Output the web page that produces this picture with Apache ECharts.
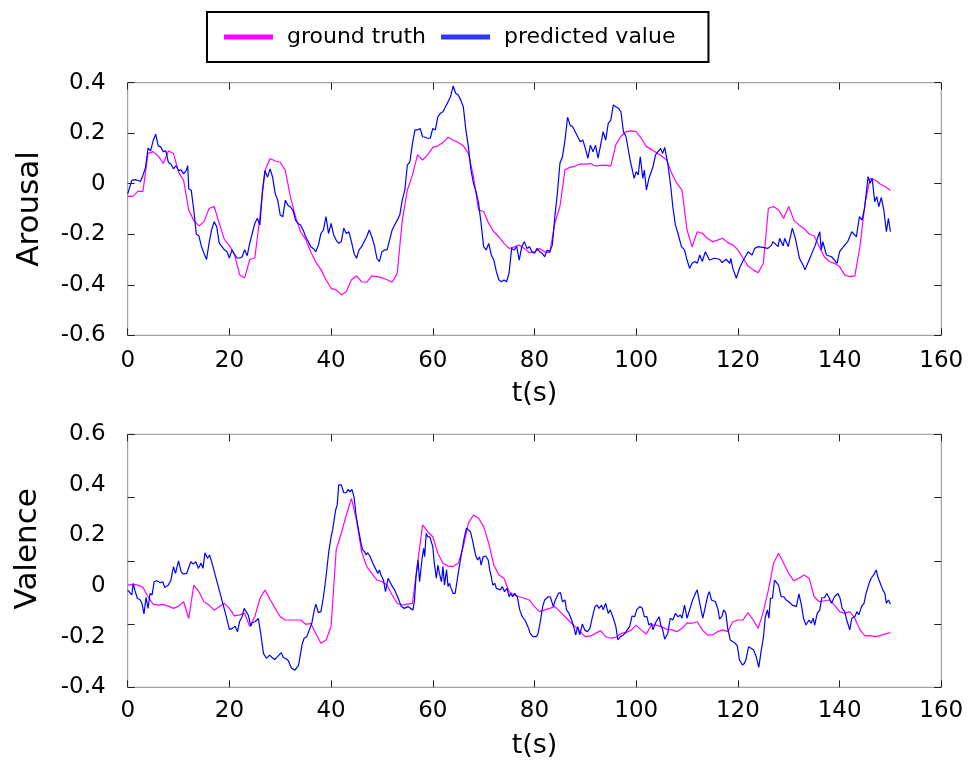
<!DOCTYPE html>
<html>
<head>
<meta charset="utf-8">
<title>Arousal / Valence</title>
<script src="https://cdn.jsdelivr.net/npm/echarts@6/dist/echarts.min.js"></script>
<style>
  html, body { margin: 0; padding: 0; background: #fff; }
  #main { width: 971px; height: 778px; }
</style>
</head>
<body>
<div id="main"></div>
<script>
// ground truth, one value per second (t = 0..150)
const arousalTruth = [
  -0.05, -0.05, -0.03, -0.03, 0.12, 0.127, 0.11, 0.08, 0.13, 0.12,
  0.046, 0.013, -0.105, -0.145, -0.167, -0.15, -0.098, -0.09, -0.157, -0.22,
  -0.245, -0.28, -0.36, -0.373, -0.30, -0.294, -0.13, 0.052, 0.10, 0.09,
  0.085, 0.052, -0.052, -0.13, -0.19, -0.22, -0.27, -0.31, -0.34, -0.38,
  -0.414, -0.42, -0.44, -0.427, -0.38, -0.365, -0.388, -0.39, -0.365, -0.368,
  -0.372, -0.38, -0.39, -0.355, -0.144, -0.025, 0.034, 0.114, 0.094, 0.114,
  0.144, 0.15, 0.163, 0.184, 0.173, 0.163, 0.15, 0.12, 0.028, -0.104,
  -0.11, -0.157, -0.19, -0.21, -0.236, -0.256, -0.25, -0.243, -0.256, -0.273,
  -0.27, -0.256, -0.27, -0.273, -0.157, -0.09, 0.055, 0.065, 0.07, 0.078,
  0.078, 0.08, 0.07, 0.073, 0.074, 0.07, 0.155, 0.188, 0.206, 0.209,
  0.206, 0.18, 0.147, 0.136, 0.123, 0.11, 0.094, 0.041, 0.001, -0.025,
  -0.183, -0.25, -0.19, -0.196, -0.216, -0.23, -0.223, -0.216, -0.233, -0.242,
  -0.262, -0.295, -0.326, -0.341, -0.352, -0.315, -0.097, -0.09, -0.104, -0.137,
  -0.09, -0.144, -0.163, -0.177, -0.199, -0.207, -0.249, -0.289, -0.308, -0.315,
  -0.328, -0.361, -0.368, -0.365, -0.249, -0.078, 0.021, 0.015, -0.001, -0.012,
  -0.027
];
const valenceTruth = [
  0.004, 0.007, 0.004, -0.005, -0.042, -0.071, -0.075, -0.072, -0.079, -0.088,
  -0.079, -0.062, -0.128, 0.004, -0.022, -0.062, -0.075, -0.095, -0.082, -0.068,
  -0.088, -0.118, -0.114, -0.108, -0.16, -0.121, -0.049, -0.016, -0.053, -0.088,
  -0.121, -0.134, -0.134, -0.134, -0.134, -0.151, -0.147, -0.187, -0.226, -0.213,
  -0.16, 0.143, 0.209, 0.281, 0.347, 0.261, 0.136, 0.077, 0.05, 0.024,
  0.018, 0.004, -0.035, -0.068, -0.075, -0.071, -0.068, 0.09, 0.242, 0.215,
  0.195, 0.13, 0.09, 0.079, 0.077, 0.09, 0.156, 0.248, 0.281, 0.268,
  0.235, 0.169, 0.083, 0.044, 0.031, -0.022, -0.035, -0.042, -0.048, -0.055,
  -0.081, -0.101, -0.094, -0.088, -0.081, -0.101, -0.121, -0.141, -0.16, -0.18,
  -0.2, -0.197, -0.187, -0.176, -0.2, -0.206, -0.203, -0.187, -0.184, -0.174,
  -0.154, -0.174, -0.189, -0.154, -0.154, -0.16, -0.171, -0.173, -0.18, -0.167,
  -0.145, -0.147, -0.141, -0.173, -0.193, -0.193, -0.18, -0.173, -0.18, -0.141,
  -0.134, -0.134, -0.105, -0.134, -0.167, -0.101, -0.015, 0.09, 0.13, 0.09,
  0.05, 0.021, 0.031, 0.044, 0.031, -0.042, -0.062, -0.058, -0.055, -0.075,
  -0.101, -0.108, -0.101, -0.127, -0.173, -0.197, -0.196, -0.2, -0.196, -0.189,
  -0.184
];

// predicted values, sampled where the trace turns
const arousalPredT = [
  0, 0.8, 1.5, 2, 2.5, 3, 3.5, 4, 4.5, 5, 5.5, 6, 6.5, 7, 7.5, 8, 8.5, 9, 9.5, 10,
  10.5, 11, 11.5, 11.8, 12, 12.5, 13, 13.5, 14, 14.5, 15, 15.5, 16, 16.5, 17, 17.5, 18, 18.5, 19, 19.5,
  20, 20.5, 21, 21.5, 22, 22.5, 23, 23.5, 24, 24.5, 25, 25.5, 26, 26.5, 27, 27.5, 28, 28.5, 29, 29.5,
  30, 30.5, 31, 31.5, 32, 32.5, 33, 33.5, 34, 34.5, 35, 35.5, 36, 36.5, 37, 37.5, 38, 38.5, 39, 39.5,
  40, 40.5, 41, 41.5, 42, 42.5, 43, 43.5, 44, 44.5, 45, 45.5, 46, 46.5, 47, 47.5, 48, 48.5, 49, 49.5,
  50, 50.5, 51, 51.5, 52, 52.5, 53, 53.5, 54, 54.5, 55, 55.5, 56, 56.5, 57, 57.5, 58, 58.5, 59, 59.5,
  60, 60.5, 61, 61.5, 62, 62.5, 63, 63.5, 64, 64.5, 65, 65.5, 66, 66.5, 67, 67.5, 68, 68.5, 69, 69.5,
  70, 70.5, 71, 71.5, 72, 72.5, 73, 73.5, 74, 74.5, 75, 75.5, 76, 76.5, 77, 77.5, 78, 78.5, 79, 79.5,
  80, 80.5, 81, 81.5, 82, 82.5, 83, 83.5, 84, 84.5, 85, 85.5, 86, 86.5, 87, 87.5, 88, 88.5, 89, 89.5,
  90, 90.5, 91, 91.5, 92, 92.5, 93, 93.5, 94, 94.5, 95, 95.5, 96, 96.5, 97, 97.5, 98, 98.8, 99.6, 100,
  100.4, 100.8, 101.3, 101.6, 102, 102.5, 102.8, 103.3, 103.8, 104.3, 104.8, 105.2, 105.6, 106.2, 106.8, 107.2, 107.7, 108.2, 108.9, 109.5,
  110, 110.5, 111, 111.5, 112, 112.5, 113, 113.6, 114.4, 115.4, 116.4, 116.9, 117.7, 118.4, 118.6, 119, 119.3, 119.7, 120.3, 121.1,
  122, 122.8, 123.3, 124, 124.9, 125.9, 126.6, 126.9, 127.9, 128.2, 128.9, 129.2, 129.9, 130.7, 131.3, 132.1, 132.8, 133.2, 134, 135.1,
  136.1, 136.4, 136.7, 137.4, 138.4, 139, 139.5, 140, 141, 141.6, 142.4, 143.3, 143.9, 144.4, 144.9, 145.6, 146, 146.4, 146.9, 147.3,
  147.7, 148.2, 148.7, 149.2, 149.6, 150
];
const arousalPred = [
  -0.04, 0.013, 0.016, 0.013, 0.009, 0.033, 0.065, 0.141, 0.13, 0.17, 0.196, 0.15, 0.146, 0.127, 0.13, 0.085, 0.078, 0.059, 0.072, 0.052,
  0.055, 0.039, 0.052, 0.072, -0.02, -0.026, -0.105, -0.2, -0.206, -0.248, -0.275, -0.3, -0.235, -0.183, -0.15, -0.17, -0.235, -0.248, -0.261, -0.268,
  -0.294, -0.261, -0.28, -0.294, -0.294, -0.29, -0.261, -0.285, -0.235, -0.196, -0.157, -0.137, -0.163, -0.026, 0.052, 0.026, 0.059, 0.026, -0.039, -0.065,
  -0.124, -0.131, -0.065, -0.085, -0.092, -0.105, -0.144, -0.157, -0.163, -0.183, -0.21, -0.229, -0.249, -0.256, -0.269, -0.243, -0.197, -0.183, -0.13, -0.197,
  -0.157, -0.203, -0.223, -0.236, -0.229, -0.176, -0.197, -0.19, -0.229, -0.275, -0.295, -0.262, -0.249, -0.229, -0.21, -0.183, -0.21, -0.243, -0.295, -0.308,
  -0.269, -0.262, -0.262, -0.223, -0.183, -0.163, -0.144, -0.124, -0.064, -0.025, 0.074, 0.087, 0.16, 0.213, 0.213, 0.219, 0.186, 0.184, 0.18, 0.18,
  0.219, 0.213, 0.266, 0.279, 0.285, 0.305, 0.325, 0.345, 0.387, 0.358, 0.351, 0.331, 0.305, 0.213, 0.147, 0.054, 0.002, -0.031, -0.077, -0.157,
  -0.249, -0.262, -0.236, -0.282, -0.302, -0.348, -0.381, -0.388, -0.381, -0.388, -0.354, -0.256, -0.262, -0.249, -0.302, -0.249, -0.229, -0.256, -0.249, -0.269,
  -0.275, -0.256, -0.269, -0.275, -0.289, -0.262, -0.269, -0.243, -0.13, -0.038, 0.081, 0.107, 0.173, 0.263, 0.232, 0.226, 0.206, 0.186, 0.166, 0.173,
  0.14, 0.101, 0.153, 0.127, 0.153, 0.101, 0.153, 0.206, 0.173, 0.239, 0.252, 0.312, 0.305, 0.299, 0.285, 0.206, 0.186, 0.094, 0.021, 0.048,
  0.035, 0.107, 0.021, 0.054, -0.025, 0.021, 0.015, 0.067, 0.114, 0.127, 0.14, 0.12, 0.144, 0.081, -0.012, -0.091, -0.163, -0.196, -0.249, -0.262,
  -0.302, -0.335, -0.315, -0.308, -0.315, -0.282, -0.308, -0.269, -0.302, -0.295, -0.299, -0.312, -0.299, -0.315, -0.295, -0.335, -0.341, -0.374, -0.335, -0.302,
  -0.269, -0.282, -0.256, -0.249, -0.252, -0.256, -0.243, -0.229, -0.249, -0.216, -0.246, -0.216, -0.249, -0.176, -0.216, -0.295, -0.322, -0.341, -0.302, -0.249,
  -0.19, -0.262, -0.229, -0.282, -0.289, -0.302, -0.315, -0.269, -0.243, -0.229, -0.19, -0.21, -0.13, -0.144, -0.098, 0.028, 0.002, 0.021, -0.071, -0.051,
  -0.091, -0.054, -0.104, -0.19, -0.137, -0.19
];
const valencePredT = [
  0, 0.8, 1.1, 1.4, 1.9, 2.4, 2.8, 3.2, 3.6, 4.0, 4.4, 4.8, 5.2, 5.7, 6.4, 6.9, 7.3, 8.0, 8.5, 9.0,
  9.4, 10.0, 10.5, 10.9, 11.6, 12.4, 12.9, 13.4, 13.9, 14.4, 14.8, 15.2, 15.7, 16.1, 16.7, 17.2, 17.5, 18.0, 18.7, 19.3,
  20.0, 20.6, 21.1, 21.6, 22.0, 22.5, 22.9, 23.3, 23.7, 24.2, 24.5, 25.1, 25.4, 25.7, 26.2, 26.7, 27.3, 27.9, 28.4, 28.9,
  29.6, 30.2, 30.6, 31.1, 31.6, 32.2, 32.9, 33.6, 34.3, 34.7, 35.2, 35.7, 36.2, 36.7, 37.0, 37.5, 38.0, 38.5, 39.0, 39.5,
  40.0, 40.3, 40.9, 41.2, 41.5, 42.0, 42.5, 43.0, 43.3, 43.7, 44.1, 44.5, 44.9, 45.4, 45.9, 46.2, 46.6, 46.9, 47.2, 47.7,
  48.2, 48.7, 49.2, 49.5, 49.8, 50.3, 50.7, 51.2, 51.5, 52.0, 52.5, 52.8, 53.2, 53.8, 54.4, 55.1, 55.6, 56.1, 56.4, 56.7,
  57.1, 57.4, 57.6, 57.9, 58.2, 58.4, 58.7, 59.0, 59.4, 59.7, 60.0, 60.3, 60.7, 61.0, 61.3, 61.7, 62.0, 62.3, 62.7, 63.0,
  63.3, 63.6, 64.0, 64.4, 64.8, 65.1, 65.6, 66.1, 66.6, 66.9, 67.4, 67.8, 68.0, 68.4, 68.8, 69.2, 69.5, 69.9, 70.4, 70.9,
  71.2, 71.5, 71.8, 72.2, 72.5, 72.8, 73.3, 73.7, 74.1, 74.6, 75.0, 75.3, 75.7, 76.1, 76.6, 77.1, 77.6, 78.1, 78.7, 79.2,
  79.7, 80.4, 80.7, 81.2, 81.6, 82.0, 82.7, 83.1, 83.7, 84.1, 84.7, 85.1, 85.5, 86.0, 86.3, 86.8, 87.3, 87.7, 88.1, 88.5,
  88.9, 89.4, 89.9, 90.4, 90.9, 91.4, 91.9, 92.3, 92.7, 93.2, 93.5, 94.0, 94.5, 94.9, 95.5, 96.0, 96.4, 96.9, 97.5, 98.0,
  98.7, 99.2, 99.7, 100.1, 100.7, 101.2, 101.6, 102.1, 102.5, 103.0, 103.3, 103.8, 104.5, 104.9, 105.2, 105.6, 106.2, 106.7, 107.2, 107.7,
  108.2, 108.7, 109.0, 109.5, 110.0, 110.5, 111.1, 111.7, 112.0, 112.5, 113.1, 113.6, 114.1, 114.4, 114.8, 115.1, 115.6, 116.1, 116.4, 116.9,
  117.2, 117.6, 118.0, 118.5, 119.0, 119.5, 119.9, 120.3, 120.9, 121.3, 121.6, 122.1, 122.6, 123.1, 123.6, 124.1, 124.6, 125.0, 125.4, 125.8,
  126.1, 126.4, 126.8, 127.2, 127.5, 128.0, 128.5, 129.0, 129.5, 130.0, 130.7, 131.5, 132.0, 132.5, 132.9, 133.4, 134.0, 134.4, 134.8, 135.1,
  135.6, 136.1, 136.5, 137.0, 137.5, 138.0, 138.4, 139.0, 139.7, 140.1, 140.5, 141.0, 141.4, 142.0, 142.4, 143.0, 143.4, 143.8, 144.3, 144.8,
  145.2, 145.8, 146.2, 146.7, 147.2, 147.5, 148.0, 148.5, 148.9, 149.2, 149.6, 150.0
];
const valencePred = [
  -0.016, -0.035, 0.011, -0.016, -0.049, -0.053, -0.068, -0.11, -0.045, -0.088, -0.029, -0.035, 0.017, 0.021, 0.013, 0.017, -0.006, 0.004, 0.024, 0.077,
  0.05, 0.1, 0.057, 0.048, 0.05, 0.096, 0.087, 0.096, 0.07, 0.09, 0.07, 0.132, 0.11, 0.123, 0.083, 0.044, 0.05, -0.016, -0.068, -0.114,
  -0.171, -0.167, -0.158, -0.18, -0.14, -0.121, -0.088, -0.101, -0.114, -0.158, -0.145, -0.14, -0.134, -0.128, -0.193, -0.266, -0.286, -0.273, -0.282, -0.29,
  -0.276, -0.263, -0.282, -0.286, -0.295, -0.325, -0.332, -0.312, -0.23, -0.206, -0.2, -0.174, -0.147, -0.094, -0.071, -0.105, -0.101, -0.042, 0.037, 0.129,
  0.195, 0.222, 0.301, 0.321, 0.4, 0.4, 0.369, 0.369, 0.382, 0.373, 0.382, 0.353, 0.281, 0.222, 0.169, 0.143, 0.136, 0.123, 0.132, 0.116,
  0.09, 0.07, 0.05, 0.064, 0.044, 0.024, -0.022, 0.031, 0.024, 0.0, -0.015, -0.009, -0.048, -0.081, -0.088, -0.081, -0.088, -0.094, -0.055, 0.037,
  0.103, 0.017, 0.017, 0.11, 0.149, 0.116, 0.209, 0.195, 0.195, 0.198, 0.156, 0.09, 0.031, 0.083, 0.05, 0.017, 0.077, 0.004, 0.064, -0.002,
  0.011, -0.009, -0.029, -0.029, 0.024, 0.064, 0.123, 0.183, 0.229, 0.222, 0.215, 0.182, 0.189, 0.123, 0.103, 0.116, 0.083, 0.116, 0.119, 0.103,
  0.064, 0.037, 0.004, 0.011, -0.009, -0.002, -0.015, -0.002, -0.022, -0.009, -0.042, -0.029, -0.042, -0.029, -0.042, -0.094, -0.121, -0.134, -0.16, -0.189,
  -0.2, -0.2, -0.187, -0.134, -0.081, -0.055, -0.042, -0.042, -0.081, -0.055, -0.029, -0.026, -0.062, -0.055, -0.094, -0.108, -0.134, -0.16, -0.193, -0.16,
  -0.193, -0.15, -0.174, -0.18, -0.167, -0.121, -0.081, -0.075, -0.088, -0.075, -0.094, -0.068, -0.108, -0.094, -0.127, -0.16, -0.213, -0.2, -0.193, -0.18,
  -0.16, -0.118, -0.121, -0.094, -0.081, -0.088, -0.121, -0.121, -0.154, -0.147, -0.173, -0.145, -0.121, -0.16, -0.171, -0.21, -0.187, -0.127, -0.134, -0.108,
  -0.121, -0.114, -0.127, -0.075, -0.127, -0.094, -0.055, -0.026, -0.015, -0.068, -0.127, -0.081, -0.035, -0.022, -0.055, -0.048, -0.062, -0.094, -0.131, -0.118,
  -0.094, -0.105, -0.167, -0.213, -0.22, -0.226, -0.237, -0.292, -0.312, -0.305, -0.289, -0.24, -0.246, -0.253, -0.279, -0.321, -0.253, -0.206, -0.121, -0.094,
  -0.127, -0.048, -0.048, 0.024, 0.027, 0.004, -0.042, -0.042, -0.055, -0.062, -0.075, -0.081, -0.031, -0.075, -0.127, -0.154, -0.134, -0.147, -0.127, -0.154,
  -0.108, -0.094, -0.046, -0.046, -0.029, -0.048, -0.068, -0.042, -0.029, -0.048, -0.088, -0.101, -0.134, -0.173, -0.127, -0.121, -0.101, -0.114, -0.081, -0.068,
  -0.029, 0.011, 0.031, 0.044, 0.064, 0.037, 0.011, -0.015, -0.029, -0.068, -0.055, -0.071
];

const FONT = 'DejaVu Sans';
const truthColor = '#ff00ff';
const predColor = '#0000ff';

function pairs(ts, vs) {
  const n = Math.min(ts.length, vs.length);
  const out = [];
  for (let i = 0; i < n; i++) out.push([ts[i], vs[i]]);
  return out;
}
function perSecond(vs) {
  return vs.map((v, i) => [i, v]);
}

// frame comes from the grid border; axes only give ticks and labels
const noLine = { show: false, onZero: false };
const inTicks = { inside: true, length: 7, lineStyle: { color: '#222' } };

function xAxes(gridIndex, bottomMargin) {
  return [
    {
      gridIndex: gridIndex, type: 'value', position: 'bottom',
      min: 0, max: 160, interval: 20,
      axisLine: noLine,
      axisTick: inTicks,
      axisLabel: { color: '#000', fontSize: 23, fontFamily: FONT, margin: bottomMargin },
      splitLine: { show: false },
      name: 't(s)', nameLocation: 'middle', nameGap: 45,
      nameTextStyle: { color: '#000', fontSize: 27, fontFamily: FONT }
    },
    {
      gridIndex: gridIndex, type: 'value', position: 'top',
      min: 0, max: 160, interval: 20,
      axisLine: noLine,
      axisTick: inTicks,
      axisLabel: { show: false },
      splitLine: { show: false }
    }
  ];
}

// y axis that only draws inward ticks (no labels)
function tickAxis(gridIndex, position, min, max, interval) {
  return {
    gridIndex: gridIndex, type: 'value', position: position,
    min: min, max: max, interval: interval,
    axisLine: noLine,
    axisTick: inTicks,
    axisLabel: { show: false },
    splitLine: { show: false }
  };
}

const chart = echarts.init(document.getElementById('main'));

chart.setOption({
  backgroundColor: '#fff',
  animation: false,
  textStyle: { fontFamily: FONT },
  legend: {
    left: 207, top: 12,
    padding: [14, 33, 14, 17],
    itemGap: 15,
    itemWidth: 49, itemHeight: 5,
    borderColor: '#000', borderWidth: 2,
    textStyle: { color: '#000', fontSize: 22, fontFamily: FONT, padding: [0, 0, 0, 9] },
    data: [
      { name: 'ground truth', icon: 'rect' },
      { name: 'predicted value', icon: 'rect', itemStyle: { color: '#3333ff' } }
    ]
  },
  grid: [
    { left: 127.7, right: 29.7, top: 82.7, height: 252.6, show: true, borderColor: '#8c8c8c', borderWidth: 1 },
    { left: 127.7, right: 29.7, top: 434.3, height: 253, show: true, borderColor: '#8c8c8c', borderWidth: 1 }
  ],
  xAxis: xAxes(0, 14).concat(xAxes(1, 12)),
  yAxis: [
    {
      gridIndex: 0, type: 'value', position: 'left',
      min: -0.6, max: 0.4, interval: 0.2,
      axisLine: noLine,
      axisTick: inTicks,
      axisLabel: { color: '#000', fontSize: 23, fontFamily: FONT, margin: 22 },
      splitLine: { show: false },
      name: 'Arousal', nameLocation: 'middle', nameRotate: 90, nameGap: 82,
      nameTextStyle: { color: '#000', fontSize: 31, fontFamily: FONT }
    },
    tickAxis(0, 'right', -0.6, 0.4, 0.2),
    {
      gridIndex: 1, type: 'value', position: 'left',
      min: -0.4, max: 0.6, interval: 0.2,
      axisLine: noLine,
      axisTick: { show: false },
      axisLabel: { color: '#000', fontSize: 23, fontFamily: FONT, margin: 22 },
      splitLine: { show: false },
      name: 'Valence', nameLocation: 'middle', nameRotate: 90, nameGap: 84,
      nameTextStyle: { color: '#000', fontSize: 31, fontFamily: FONT, padding: [0, 0, 0, 24] }
    },
    tickAxis(1, 'left', 0, 4, 1),
    tickAxis(1, 'right', 0, 4, 1)
  ],
  series: [
    {
      name: 'ground truth', type: 'line', xAxisIndex: 0, yAxisIndex: 0,
      data: perSecond(arousalTruth), showSymbol: false, color: truthColor,
      lineStyle: { width: 1.2, color: truthColor }
    },
    {
      name: 'predicted value', type: 'line', xAxisIndex: 0, yAxisIndex: 0,
      data: pairs(arousalPredT, arousalPred), showSymbol: false, color: predColor,
      lineStyle: { width: 1.2, color: predColor }
    },
    {
      name: 'ground truth', type: 'line', xAxisIndex: 2, yAxisIndex: 2,
      data: perSecond(valenceTruth), showSymbol: false, color: truthColor,
      lineStyle: { width: 1.2, color: truthColor }
    },
    {
      name: 'predicted value', type: 'line', xAxisIndex: 2, yAxisIndex: 2,
      data: pairs(valencePredT, valencePred), showSymbol: false, color: predColor,
      lineStyle: { width: 1.2, color: predColor }
    }
  ]
});
</script>
</body>
</html>
